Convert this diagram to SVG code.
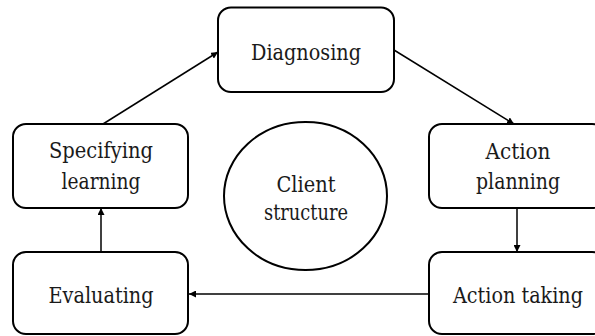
<svg xmlns="http://www.w3.org/2000/svg" width="595" height="336" viewBox="0 0 595 336">
  <style>
    .box { fill: #ffffff; stroke: #000000; stroke-width: 2; }
    .lbl { font-family: "DejaVu Serif", "Liberation Serif", serif; font-size: 22px; fill: #1a1a1a; text-anchor: middle; }
    .edge { stroke: #000000; stroke-width: 1.5; fill: none; marker-end: url(#arrow); }
  </style>
  <defs>
    <marker id="arrow" viewBox="0 0 10 10" refX="10" refY="5" markerWidth="7" markerHeight="7" markerUnits="userSpaceOnUse" orient="auto">
      <path d="M0,0 L10,5 L0,10 Z" fill="#000000"/>
    </marker>
  </defs>

  <rect width="595" height="336" fill="#ffffff"/>

  <g id="connectors">
    <line class="edge" x1="103" y1="124" x2="218" y2="52"/>
    <line class="edge" x1="394" y1="50" x2="514" y2="124"/>
    <line class="edge" x1="517" y1="208" x2="517" y2="252"/>
    <line class="edge" x1="429" y1="294" x2="189" y2="294"/>
    <line class="edge" x1="101" y1="252" x2="101" y2="208"/>
  </g>

  <g id="diagnosing">
    <rect class="box" x="218" y="7.5" width="176" height="84.5" rx="13"/>
    <text class="lbl" x="306" y="60" textLength="110" lengthAdjust="spacingAndGlyphs">Diagnosing</text>
  </g>

  <g id="action-planning">
    <rect class="box" x="429" y="124" width="176" height="84" rx="13"/>
    <text class="lbl" x="518" y="159" textLength="65" lengthAdjust="spacingAndGlyphs">Action</text>
    <text class="lbl" x="518" y="189" textLength="84" lengthAdjust="spacingAndGlyphs">planning</text>
  </g>

  <g id="action-taking">
    <rect class="box" x="429" y="252" width="176" height="82" rx="13"/>
    <text class="lbl" x="518" y="303" textLength="130" lengthAdjust="spacingAndGlyphs">Action taking</text>
  </g>

  <g id="evaluating">
    <rect class="box" x="13" y="252" width="175" height="82" rx="13"/>
    <text class="lbl" x="101" y="303" textLength="105" lengthAdjust="spacingAndGlyphs">Evaluating</text>
  </g>

  <g id="specifying-learning">
    <rect class="box" x="13" y="124" width="175" height="84" rx="13"/>
    <text class="lbl" x="101" y="158" textLength="104" lengthAdjust="spacingAndGlyphs">Specifying</text>
    <text class="lbl" x="101" y="189" textLength="79" lengthAdjust="spacingAndGlyphs">learning</text>
  </g>

  <g id="client-structure">
    <ellipse class="box" cx="305.5" cy="196" rx="81.5" ry="74"/>
    <text class="lbl" x="306" y="192" textLength="59" lengthAdjust="spacingAndGlyphs">Client</text>
    <text class="lbl" x="306" y="220" textLength="84" lengthAdjust="spacingAndGlyphs">structure</text>
  </g>
</svg>
